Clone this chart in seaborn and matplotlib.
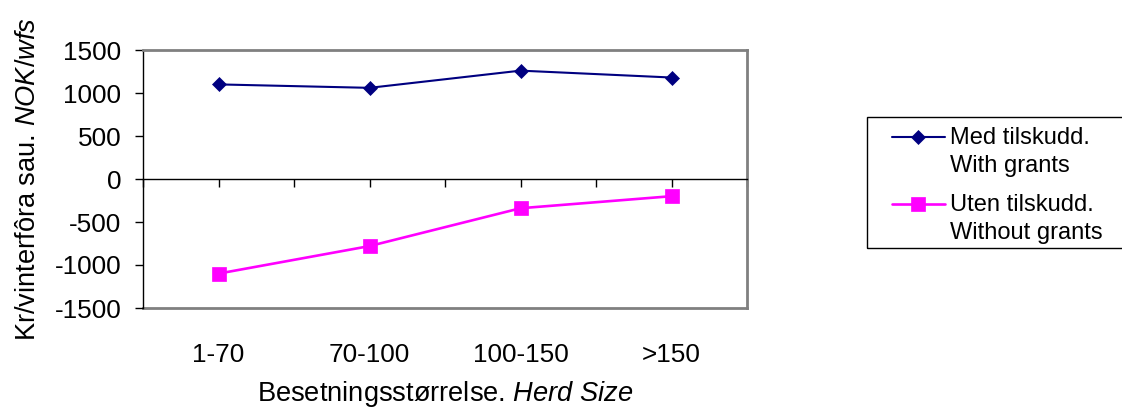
import numpy as np
import pandas as pd
import seaborn as sns
import matplotlib.pyplot as plt
from matplotlib.patches import Rectangle
from matplotlib.legend_handler import HandlerLine2D

# Data
herd_sizes = ['1-70', '70-100', '100-150', '>150']
with_grants = [1100, 1060, 1260, 1180]
without_grants = [-1100, -780, -340, -200]
label_with = 'Med tilskudd.\nWith grants'
label_without = 'Uten tilskudd.\nWithout grants'
y_ticks = [-1500, -1000, -500, 0, 500, 1000, 1500]

sns.set_style('white')
plt.rcParams['font.family'] = ['Liberation Sans', 'DejaVu Sans']
plt.rcParams['mathtext.fontset'] = 'custom'
plt.rcParams['mathtext.rm'] = 'Liberation Sans'
plt.rcParams['mathtext.it'] = 'Liberation Sans:italic'
plt.rcParams['axes.unicode_minus'] = False
for key in ['text.color', 'axes.labelcolor', 'xtick.color', 'ytick.color']:
    plt.rcParams[key] = 'black'

FS_TICK = 18.8
FS_TITLE = 19.6
FS_LEG = 17
NAVY = '#000080'
MAGENTA = '#ff00ff'
GRAY = '#808080'

pos = np.arange(len(herd_sizes))
df_with = pd.DataFrame({'pos': pos, 'value': with_grants})
df_without = pd.DataFrame({'pos': pos, 'value': without_grants})

W, H = 1122, 411
fig = plt.figure(figsize=(W / 100, H / 100), dpi=100)
ax = fig.add_axes([143 / W, 1 - 308 / H, (747 - 143) / W, (308 - 50) / H])

sns.lineplot(data=df_with, x='pos', y='value', ax=ax, color=NAVY, lw=1.5,
             marker='D', markersize=7.5, markeredgecolor=NAVY, markeredgewidth=0.5)
sns.lineplot(data=df_without, x='pos', y='value', ax=ax, color=MAGENTA, lw=1.9,
             marker='s', markersize=10.5, markeredgecolor=MAGENTA, markeredgewidth=0.5)

ax.set_xlim(-0.5, len(herd_sizes) - 0.5)
ax.set_ylim(y_ticks[0], y_ticks[-1])
ax.set_yticks(y_ticks)

# x axis line sits at zero, with tick marks at centres and boundaries
ax.spines['bottom'].set_position(('data', 0))
ax.spines['bottom'].set_color('black')
ax.spines['bottom'].set_linewidth(1.0)
ax.set_xticks(np.arange(-0.5, len(herd_sizes), 0.5))
ax.tick_params(axis='x', bottom=True, labelbottom=False, direction='out',
               length=5.5, width=1, color='black')
ax.tick_params(axis='y', left=True, direction='out', length=5.5, width=1,
               color='black', labelsize=FS_TICK, pad=10)
ax.spines['left'].set_color('black')
ax.spines['left'].set_linewidth(1.0)
for side in ['top', 'right']:
    ax.spines[side].set_color(GRAY)
    ax.spines[side].set_linewidth(2.0)
ax.set_xlabel('')
ax.set_ylabel(r'Kr/vinterfôra sau. $\mathit{NOK/wfs}$', fontsize=FS_TITLE, labelpad=10)

# category labels along the bottom frame
sec = ax.secondary_xaxis('bottom')
sec.set_xticks(pos, herd_sizes)
sec.tick_params(length=0, pad=25, labelsize=FS_TICK)
sec.spines['bottom'].set_color(GRAY)
sec.spines['bottom'].set_linewidth(2.0)
sec.set_xlabel(r'Besetningsstørrelse. $\mathit{Herd\ Size}$', fontsize=FS_TITLE, labelpad=9)


class IndentedHandler(HandlerLine2D):
    # handle drawn a bit indented and level with the first text line
    def create_artists(self, legend, orig_handle, xdescent, ydescent,
                       width, height, fontsize, trans):
        shift = 0.75 * fontsize
        lift = 1.3 * fontsize
        return super().create_artists(legend, orig_handle, xdescent - shift,
                                      ydescent - lift, width - shift, height,
                                      fontsize, trans)


handles = ax.get_lines()[:2]
leg = ax.legend(handles, [label_with, label_without],
                handler_map={h: IndentedHandler() for h in handles},
                loc='upper left', bbox_to_anchor=(874 / W, 1 - 127 / H),
                bbox_transform=fig.transFigure, borderaxespad=0, borderpad=0,
                frameon=False, fontsize=FS_LEG, handlelength=3.0,
                handletextpad=0.2, labelspacing=0.72)
for t in leg.get_texts():
    t.set_linespacing(1.36)

# legend frame runs past the right edge of the picture
fig.patches.append(Rectangle((867 / W, 1 - 248 / H), (1130 - 867) / W, (248 - 117) / H,
                             transform=fig.transFigure, fill=False,
                             edgecolor='black', linewidth=1.0))

fig.savefig('out.png', dpi=100)
